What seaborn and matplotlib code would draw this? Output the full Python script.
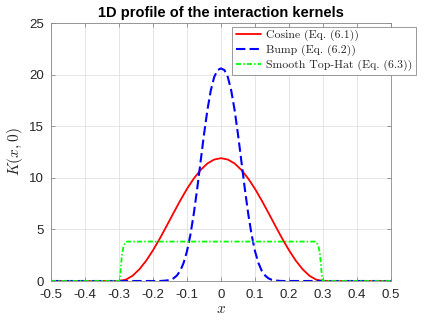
import numpy as np
import pandas as pd
import matplotlib
matplotlib.use("Agg")
import matplotlib.pyplot as plt
import seaborn as sns

# Valores
x_cos = [-0.5, -0.30, -0.28, -0.26, -0.24, -0.22, -0.20, -0.18, -0.16, -0.14, -0.12,
         -0.10, -0.08, -0.06, -0.04, -0.02, 0.0, 0.02, 0.04, 0.06, 0.08, 0.10, 0.12,
         0.14, 0.16, 0.18, 0.20, 0.22, 0.24, 0.26, 0.28, 0.30, 0.5]
k_cos = [0, 0, 0.13, 0.51, 1.14, 1.97, 2.98, 4.11, 5.33, 6.57, 7.79,
         8.93, 9.93, 10.76, 11.39, 11.77, 11.90, 11.77, 11.39, 10.76, 9.93, 8.93, 7.79,
         6.57, 5.33, 4.11, 2.98, 1.97, 1.14, 0.51, 0.13, 0, 0]

x_bump = [-0.5, -0.18, -0.17, -0.16, -0.15, -0.14, -0.13, -0.12, -0.11, -0.10, -0.09,
          -0.08, -0.07, -0.06, -0.05, -0.04, -0.03, -0.02, -0.01, 0.0, 0.01, 0.02,
          0.03, 0.04, 0.05, 0.06, 0.07, 0.08, 0.09, 0.10, 0.11, 0.12, 0.13, 0.14,
          0.15, 0.16, 0.17, 0.18, 0.5]
k_bump = [0, 0, 0.02, 0.05, 0.11, 0.25, 0.52, 0.98, 1.75, 2.89, 4.48,
          6.53, 8.95, 11.58, 14.20, 16.57, 18.47, 19.77, 20.44, 20.60, 20.44, 19.77,
          18.47, 16.57, 14.20, 11.58, 8.95, 6.53, 4.48, 2.89, 1.75, 0.98, 0.52, 0.25,
          0.11, 0.05, 0.02, 0, 0]

x_hat = [-0.5, -0.300, -0.298, -0.296, -0.294, -0.291, -0.287, -0.282, -0.276,
         0.276, 0.282, 0.287, 0.291, 0.294, 0.296, 0.298, 0.300, 0.5]
k_hat = [0, 0, 0.1, 0.7, 1.6, 2.6, 3.3, 3.7, 3.82,
         3.82, 3.7, 3.3, 2.6, 1.6, 0.7, 0.1, 0, 0]

labels = ['Cosine (Eq. (6.1))', 'Bump (Eq. (6.2))', 'Smooth Top-Hat (Eq. (6.3))']

sns.set_style("ticks")
plt.rcParams['font.family'] = ['Liberation Sans', 'DejaVu Sans']
plt.rcParams['mathtext.fontset'] = 'cm'

fig = plt.figure(figsize=(4.26, 3.23), dpi=100)
ax = fig.add_axes([51/426, 42/323, 340/426, 258/323])

sns.lineplot(x=x_cos, y=k_cos, color=(1, 0, 0), lw=1.3, sort=False,
             estimator=None, label=labels[0], ax=ax)
sns.lineplot(x=x_bump, y=k_bump, color=(0, 0, 1), lw=1.5, sort=False,
             estimator=None, label=labels[1], ax=ax, linestyle=(0, (4.5, 2.0)))
sns.lineplot(x=x_hat, y=k_hat, color=(0, 1, 0), lw=1.3, sort=False,
             estimator=None, label=labels[2], ax=ax, linestyle=(0, (2.8, 1.2, 0.8, 1.2)))

ax.set_xlim(-0.5, 0.5)
ax.set_ylim(0, 25)
ax.set_xticks(np.arange(-0.5, 0.51, 0.1))
ax.set_xticklabels(['-0.5', '-0.4', '-0.3', '-0.2', '-0.1', '0',
                    '0.1', '0.2', '0.3', '0.4', '0.5'])
ax.set_yticks([0, 5, 10, 15, 20, 25])
ax.grid(True, color='#e0e0e0', lw=0.6)
ax.set_axisbelow(True)
for s in ax.spines.values():
    s.set_color('#8a8a8a')
    s.set_linewidth(0.6)
ax.tick_params(direction='in', length=3, width=0.6, color='#8a8a8a',
               labelsize=9.5, labelcolor='#262626', top=True, right=True)
ax.tick_params(axis='x', pad=5.5)
ax.tick_params(axis='y', pad=5)

ax.set_xlabel('$x$', fontsize=11, color='#262626', labelpad=1)
ax.set_ylabel('$K(x,0)$', fontsize=11, color='#262626', labelpad=3)
ax.set_title('1D profile of the interaction kernels', fontsize=10.5, fontweight='bold',
             color='black', pad=4)

leg = ax.legend(loc='upper right', bbox_to_anchor=(416/426, 1 - 26.5/323),
                bbox_transform=fig.transFigure, borderaxespad=0, fancybox=False,
                framealpha=1, edgecolor='#8a8a8a', handlelength=2.2,
                labelspacing=0.3, borderpad=0.3, handletextpad=0.4,
                prop={'family': 'cmr10', 'size': 8.5})
leg.get_frame().set_linewidth(0.6)

fig.savefig("out.png", dpi=100)
